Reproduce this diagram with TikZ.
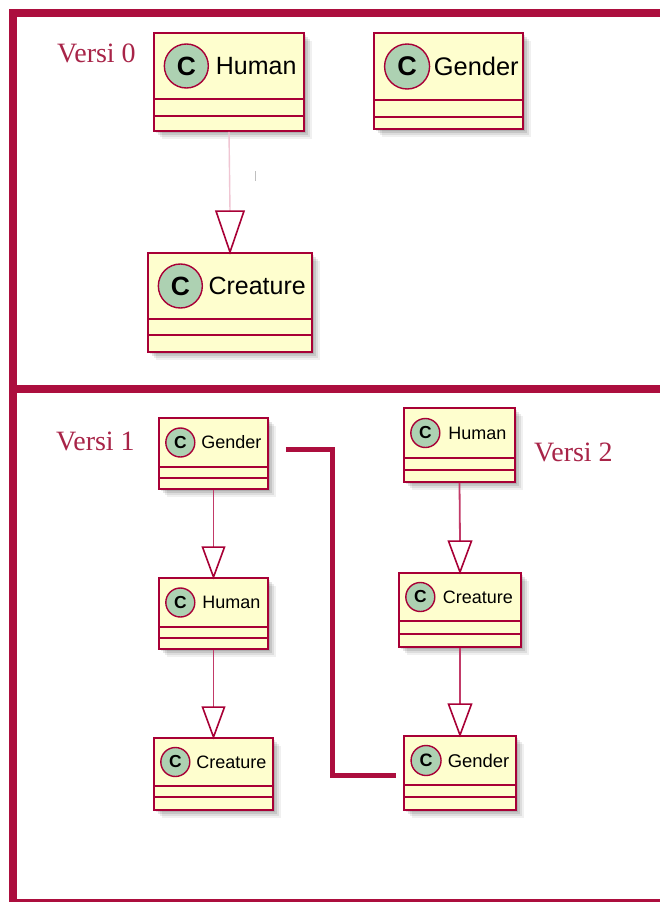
\documentclass[tikz,border=0pt]{standalone}
\usepackage{fontspec}
\setmainfont{Liberation Serif}
\setsansfont{Liberation Sans}
\usetikzlibrary{calc}

\definecolor{framecol}{RGB}{172,14,62}
\definecolor{umlborder}{HTML}{A80036}
\definecolor{umlfill}{HTML}{FEFECE}
\definecolor{umlcirc}{HTML}{ADD1B2}
\definecolor{versicol}{HTML}{A82448}
\definecolor{linkcol}{HTML}{C23A68}
\definecolor{fadedlink}{HTML}{F0C6D3}

\tikzset{
  classbox/.style={draw=umlborder, fill=umlfill, line width=1.9pt, inner sep=0pt, rectangle},
  classline/.style={draw=umlborder, line width=1.9pt},
  classcirc/.style={draw=umlborder, fill=umlcirc, line width=1.4pt, circle, inner sep=0pt},
  versilabel/.style={text=versicol, font=\fontsize{28pt}{28pt}\selectfont, inner sep=0pt, anchor=base west},
  genline/.style={draw=linkcol, line width=1.8pt},
  gentri/.style={draw=umlborder, fill=white, line width=1.6pt, line join=miter},
  heavylink/.style={draw=framecol, line width=5pt},
}

% #1 name, #2 left, #3 top, #4 right, #5 bottom,
% #6 first separator, #7 second separator, #8 circle radius, #9 class name
\newcommand\umlclass[9]{%
  \pgfmathsetmacro\ucw{#4-#2}%
  \pgfmathsetmacro\uch{#5-#3}%
  \pgfmathsetmacro\ucr{#8}%
  \pgfmathsetmacro\ucx{#2+1.47*#8}%
  \pgfmathsetmacro\ucy{(#3+#6)/2}%
  \pgfmathsetmacro\uctx{(\ucx+#8+#4)/2}%
  \pgfmathsetmacro\ucf{0.93*#8+4.5}%
  \pgfmathsetmacro\ucc{1.2*#8}%
  % soft drop shadow
  \foreach \s/\o in {2/0.10,4/0.10,6/0.08,8/0.06}{
    \fill[black, opacity=\o] (#2+\s,#3+\s) rectangle (#4+\s,#5+\s);
  }
  \node[classbox, minimum width=\ucw pt, minimum height=\uch pt] (#1) at ({(#2+#4)/2},{(#3+#5)/2}) {};
  \draw[classline] (#2,#6) -- (#4,#6) (#2,#7) -- (#4,#7);
  \node[classcirc, minimum size=2*\ucr pt, font=\sffamily\bfseries\fontsize{\ucc pt}{\ucc pt}\selectfont] (#1-c) at (\ucx,\ucy) {C};
  \node[font=\sffamily\fontsize{\ucf pt}{\ucf pt}\selectfont, inner sep=0pt] (#1-t) at (\uctx,\ucy) {#9};
}

% generalisation: line from #1 to the open triangle on top of #2
% #3 triangle width, #4 triangle height, #5 line style
\newcommand\genarrow[5]{%
  \draw[#5] (#1.south) -- ([yshift=#4 pt]#2.north);
  \draw[gentri] (#2.north) -- ++(-#3/2,-#4) -- ++(#3,0) -- cycle;
}

\begin{document}
\begin{tikzpicture}[x=1pt,y=-1pt]
\useasboundingbox (0,0) rectangle (660,902);
\fill[white] (0,0) rectangle (660,902);

% frame bars
\fill[framecol] (9,9) rectangle (660,17);
\fill[framecol] (9,9) rectangle (17,902);
\fill[framecol] (9,385) rectangle (660,393);
\fill[framecol] (9,899) rectangle (660,902);

% ---- Versi 0 ----
\node[versilabel] (v0) at (57,62) {Versi 0};
\umlclass{hum0}{154}{33}{304}{131}{99}{116}{22}{Human}
\umlclass{gen0}{374}{33}{523}{129}{100}{117}{22.5}{Gender}
\umlclass{cre0}{148}{253}{312}{352}{319}{335}{22}{Creature}
\genarrow{hum0}{cre0}{28}{41}{draw=fadedlink, line width=1.4pt}
\draw[black!25, line width=0.8pt] (255,171) -- (255,181);

% ---- Versi 1 ----
\node[versilabel] (v1) at (56,450) {Versi 1};
\umlclass{gen1}{159}{418}{268}{489}{467}{478}{14.5}{Gender}
\umlclass{hum1}{159}{578}{268}{649}{627}{638}{14.5}{Human}
\umlclass{cre1}{154}{738}{273}{810}{786}{797}{14.5}{Creature}
\genarrow{gen1}{hum1}{22}{30}{genline}
\genarrow{hum1}{cre1}{22}{30}{genline}

% ---- Versi 2 ----
\node[versilabel] (v2) at (534,461) {Versi 2};
\umlclass{hum2}{404}{408}{515}{482}{458}{470}{14.5}{Human}
\umlclass{cre2}{399}{573}{521}{647}{621}{634}{14.5}{Creature}
\umlclass{gen2}{404}{736}{516}{810}{785}{797}{15}{Gender}
\genarrow{hum2}{cre2}{23}{31}{genline}
\genarrow{cre2}{gen2}{23}{31}{genline}

% link between the two Gender classes
\coordinate (l1) at ([xshift=17pt]gen1.east |- 0,449);
\coordinate (l2) at ([xshift=-7pt]gen2.west |- 0,775);
\coordinate (lbend) at (332,600);
\draw[heavylink, line join=miter] (l1) -| (lbend) |- (l2);
\end{tikzpicture}
\end{document}
